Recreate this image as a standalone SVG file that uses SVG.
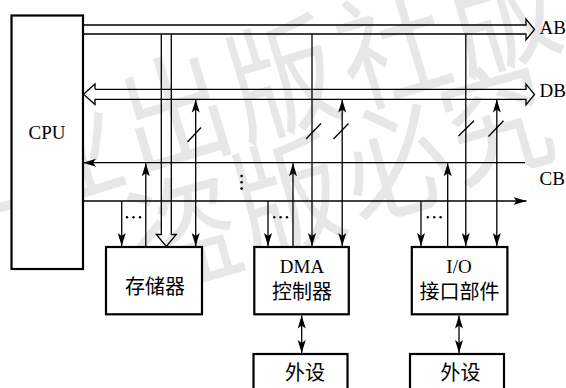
<svg xmlns="http://www.w3.org/2000/svg" width="566" height="388" viewBox="0 0 566 388">
<style>
.wm{font-family:"Noto Sans CJK SC",sans-serif;font-size:108px;fill:#e7e7e7;text-anchor:middle;font-weight:400}
.ln{stroke:#000;stroke-width:1.3;fill:none}
.box{stroke:#000;stroke-width:2.2;fill:#fff}
.lat{font-family:"Liberation Serif",serif;font-size:19px;fill:#000}
.cjk{font-family:"Noto Sans CJK SC",sans-serif;font-size:20px;fill:#000;text-anchor:middle}
</style>
<defs>
<marker id="ah" markerUnits="userSpaceOnUse" markerWidth="14" markerHeight="10" viewBox="0 -5 14 10" refX="13" refY="0" orient="auto-start-reverse">
<path d="M13,0 L0,-4 L3,0 L0,4 z" fill="#000"/>
</marker>
</defs>
<g id="watermark">
<text class="wm" transform="translate(-44,176) rotate(-17) scale(1,1.15)" y="41">工</text>
<text class="wm" transform="translate(66,150) rotate(-17) scale(1,1.15)" y="41">业</text>
<text class="wm" transform="translate(174,112) rotate(-17) scale(1,1.15)" y="41">出</text>
<text class="wm" transform="translate(282,78) rotate(-17) scale(1,1.15)" y="41">版</text>
<text class="wm" transform="translate(392,46) rotate(-17) scale(1,1.15)" y="41">社</text>
<text class="wm" transform="translate(502,12) rotate(-17) scale(1,1.15)" y="41">版</text>
<text class="wm" transform="translate(184,232) rotate(-16) scale(1,1.15)" y="41">盗</text>
<text class="wm" transform="translate(288,196) rotate(-16) scale(1,1.15)" y="41">版</text>
<text class="wm" transform="translate(396,160) rotate(-16) scale(1,1.15)" y="41">必</text>
<text class="wm" transform="translate(496,122) rotate(-16) scale(1,1.15)" y="41">究</text>
</g>
<g id="connectors">
<polyline class="ln" points="83,25 526,25 526,19 534.5,29.5 526,40 526,34 83,34"/>
<polyline class="ln" points="95,89.3 526,89.3 526,84 534.5,94.5 526,105 526,99.3 95,99.3 95,104.5 83.5,94.3 95,84 95,89.3"/>
<polyline class="ln" points="161.3,34 161.3,234.5 156.3,234.5 166.3,246.5 176.3,234.5 171.3,234.5 171.3,34"/>
<line class="ln" x1="83" y1="162.7" x2="525" y2="162.7" marker-start="url(#ah)"/>
<line class="ln" x1="83" y1="201" x2="526.5" y2="201" marker-end="url(#ah)"/>
<line class="ln" x1="195.7" y1="99.5" x2="195.7" y2="246" marker-start="url(#ah)" marker-end="url(#ah)"/>
<line class="ln" x1="121.7" y1="201" x2="121.7" y2="246" marker-end="url(#ah)"/>
<line class="ln" x1="145.8" y1="247" x2="145.8" y2="163.2" marker-end="url(#ah)"/>
<line class="ln" x1="268" y1="201" x2="268" y2="246" marker-end="url(#ah)"/>
<line class="ln" x1="293" y1="247" x2="293" y2="163.2" marker-end="url(#ah)"/>
<line class="ln" x1="312" y1="34.3" x2="312" y2="246" marker-end="url(#ah)"/>
<line class="ln" x1="342.2" y1="99.5" x2="342.2" y2="246" marker-start="url(#ah)" marker-end="url(#ah)"/>
<line class="ln" x1="421" y1="201" x2="421" y2="246" marker-end="url(#ah)"/>
<line class="ln" x1="447.7" y1="247" x2="447.7" y2="163.2" marker-end="url(#ah)"/>
<line class="ln" x1="465.8" y1="34.3" x2="465.8" y2="246" marker-end="url(#ah)"/>
<line class="ln" x1="496.8" y1="99.5" x2="496.8" y2="246" marker-start="url(#ah)" marker-end="url(#ah)"/>
<line class="ln" x1="301.7" y1="315.5" x2="301.7" y2="353" marker-start="url(#ah)" marker-end="url(#ah)"/>
<line class="ln" x1="459" y1="315.5" x2="459" y2="353" marker-start="url(#ah)" marker-end="url(#ah)"/>
<line class="ln" x1="187.5" y1="142" x2="201" y2="127.5"/>
<line class="ln" x1="306" y1="139" x2="321" y2="123.5"/>
<line class="ln" x1="333.5" y1="139" x2="348.5" y2="123.5"/>
<line class="ln" x1="458.5" y1="136" x2="474" y2="120.8"/>
<line class="ln" x1="488.5" y1="136.5" x2="503.5" y2="120.8"/>
<g fill="#000">
<circle cx="241.6" cy="176" r="1.3"/><circle cx="241.6" cy="182.3" r="1.3"/><circle cx="241.6" cy="188.6" r="1.3"/>
<circle cx="127" cy="217.3" r="1.2"/><circle cx="133.5" cy="217.3" r="1.2"/><circle cx="140" cy="217.3" r="1.2"/>
<circle cx="274.3" cy="217.3" r="1.2"/><circle cx="280.6" cy="217.3" r="1.2"/><circle cx="287" cy="217.3" r="1.2"/>
<circle cx="427.8" cy="217.3" r="1.2"/><circle cx="434.2" cy="217.3" r="1.2"/><circle cx="440.6" cy="217.3" r="1.2"/>
</g>
</g>
<text class="lat" x="539.5" y="34">AB</text>
<text class="lat" x="539.5" y="97">DB</text>
<text class="lat" x="539.5" y="185">CB</text>
<g id="cpu">
<rect class="box" x="11.5" y="15.5" width="71.5" height="253.5"/>
<text class="lat" x="47" y="138.5" text-anchor="middle">CPU</text>
</g>
<g id="memory">
<rect class="box" x="106" y="247" width="96" height="67.3"/>
<text class="cjk" x="155" y="293.5">存储器</text>
</g>
<g id="dma">
<rect class="box" x="254.3" y="247" width="94.5" height="67.3"/>
<text class="lat" x="302" y="273" text-anchor="middle">DMA</text>
<text class="cjk" x="302" y="299">控制器</text>
</g>
<g id="io">
<rect class="box" x="411.8" y="247" width="95.6" height="67.3"/>
<text class="lat" x="459" y="273" text-anchor="middle">I/O</text>
<text class="cjk" x="459.5" y="299">接口部件</text>
</g>
<g id="dev1">
<rect class="box" x="253.5" y="354" width="94" height="44"/>
<text class="cjk" x="305" y="380">外设</text>
</g>
<g id="dev2">
<rect class="box" x="410" y="354" width="94" height="44"/>
<text class="cjk" x="460.5" y="380">外设</text>
</g>
</svg>
